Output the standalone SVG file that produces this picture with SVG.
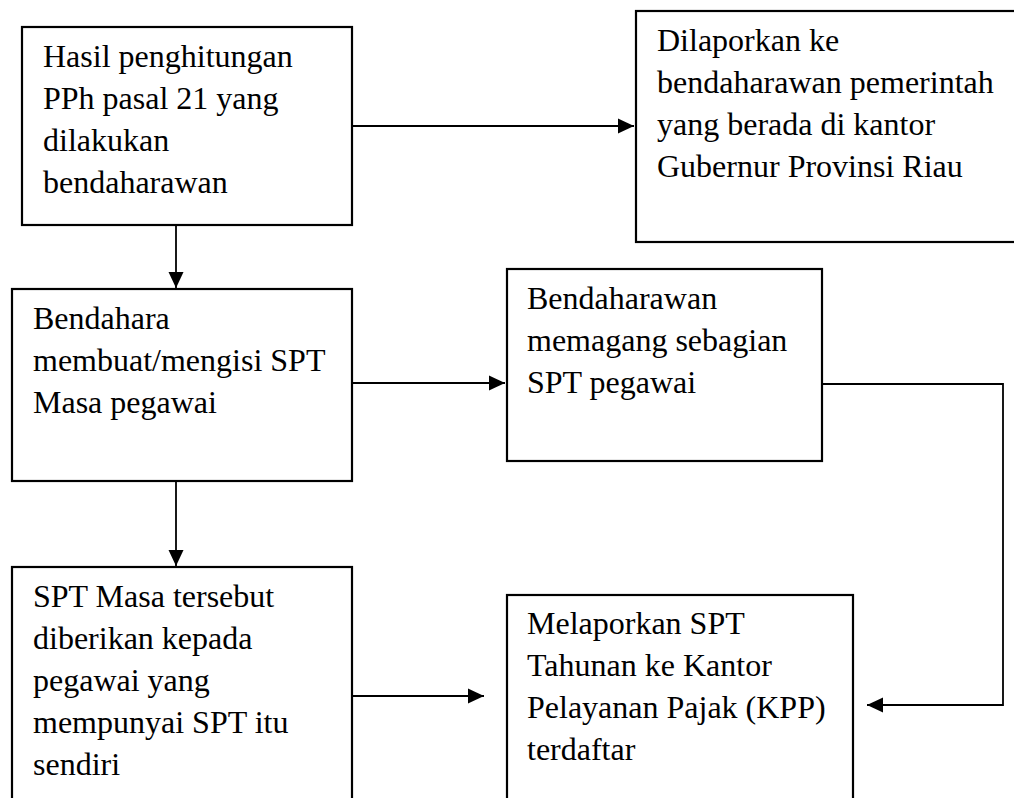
<svg xmlns="http://www.w3.org/2000/svg" width="1014" height="798" viewBox="0 0 1014 798">
<style>
.box{fill:#fff;stroke:#000;stroke-width:2.2}
.t{font-family:"Liberation Serif","Times New Roman",serif;font-size:32px;fill:#000}
.c{fill:none;stroke:#000;stroke-width:1.8}
</style>
<defs>
<marker id="ah" viewBox="0 0 16 16" refX="16" refY="8" markerWidth="16" markerHeight="16" markerUnits="userSpaceOnUse" orient="auto">
<path d="M0,0.5 L16,8 L0,15.5 Z" fill="#000"/>
</marker>
</defs>
<rect width="1014" height="798" fill="#fff"/>
<g id="connectors">
<path class="c" d="M352,126 H634" marker-end="url(#ah)"/>
<path class="c" d="M176,225 V288" marker-end="url(#ah)"/>
<path class="c" d="M352,383 H505" marker-end="url(#ah)"/>
<path class="c" d="M176,481 V566" marker-end="url(#ah)"/>
<path class="c" d="M352,696 H484" marker-end="url(#ah)"/>
<path class="c" d="M822,384 H1003 V705 H867" marker-end="url(#ah)"/>
</g>
<g id="node1">
<rect class="box" x="22" y="27" width="330" height="198"/>
<text class="t" x="43" y="66.5">Hasil penghitungan</text>
<text class="t" x="43" y="108.5">PPh pasal 21 yang</text>
<text class="t" x="43" y="150.5">dilakukan</text>
<text class="t" x="43" y="192.5">bendaharawan</text>
</g>
<g id="node2">
<rect class="box" x="636" y="11" width="390" height="231"/>
<text class="t" x="657" y="51">Dilaporkan ke</text>
<text class="t" x="657" y="93">bendaharawan pemerintah</text>
<text class="t" x="657" y="135">yang berada di kantor</text>
<text class="t" x="657" y="177">Gubernur Provinsi Riau</text>
</g>
<g id="node3">
<rect class="box" x="12" y="289" width="340" height="192"/>
<text class="t" x="33" y="329">Bendahara</text>
<text class="t" x="33" y="371">membuat/mengisi SPT</text>
<text class="t" x="33" y="413">Masa pegawai</text>
</g>
<g id="node4">
<rect class="box" x="507" y="269" width="315" height="192"/>
<text class="t" x="527" y="309">Bendaharawan</text>
<text class="t" x="527" y="351">memagang sebagian</text>
<text class="t" x="527" y="393">SPT pegawai</text>
</g>
<g id="node5">
<rect class="box" x="12" y="567" width="340" height="250"/>
<text class="t" x="33" y="607">SPT Masa tersebut</text>
<text class="t" x="33" y="649">diberikan kepada</text>
<text class="t" x="33" y="691">pegawai yang</text>
<text class="t" x="33" y="733">mempunyai SPT itu</text>
<text class="t" x="33" y="775">sendiri</text>
</g>
<g id="node6">
<rect class="box" x="507" y="595" width="346" height="230"/>
<text class="t" x="527" y="634">Melaporkan SPT</text>
<text class="t" x="527" y="676">Tahunan ke Kantor</text>
<text class="t" x="527" y="718">Pelayanan Pajak (KPP)</text>
<text class="t" x="527" y="760">terdaftar</text>
</g>
</svg>
